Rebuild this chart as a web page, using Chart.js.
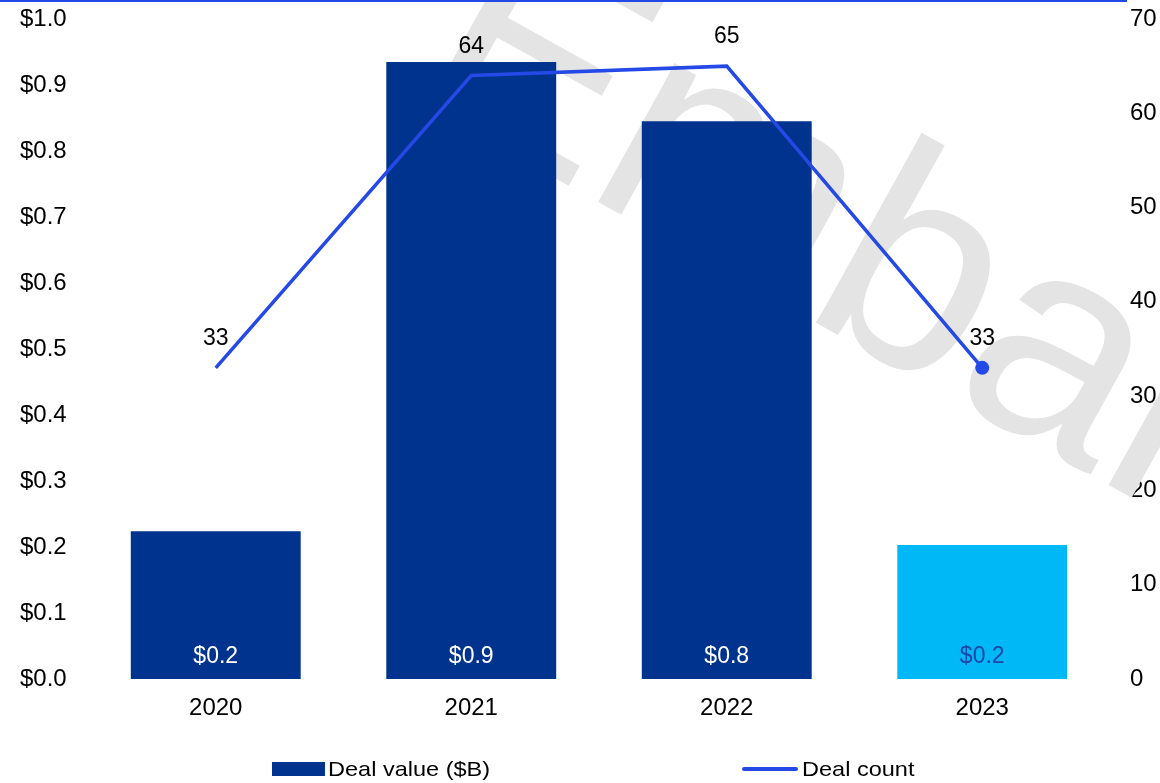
<!DOCTYPE html>
<html>
<head>
<meta charset="utf-8">
<title>Deal value and deal count</title>
<script src="https://cdn.jsdelivr.net/npm/chart.js@4/dist/chart.umd.min.js"></script>
<style>
  html, body { margin: 0; padding: 0; background: #fff; }
  #wrap { position: relative; width: 1160px; height: 783px; overflow: hidden; }
  #legend { position: absolute; left: 0; top: 0; width: 1160px; height: 783px; pointer-events: none;
    font-family: 'Liberation Sans', Arial, sans-serif; font-size: 21px; color: #000; }
  .item { position: absolute; top: 757px; height: 24px; display: flex; align-items: center; }
  .item span { display: inline-block; transform: scaleX(1.12); transform-origin: left center; white-space: nowrap; }
</style>
</head>
<body>
<div id="wrap">
  <canvas id="dealChart" width="1160" height="783"></canvas>
  <div id="legend"></div>
</div>
<script>
// chart values
const years = ['2020', '2021', '2022', '2023']
const dealValue = [0.224, 0.935, 0.845, 0.203] // $B
const dealCount = [33, 64, 65, 33]
const barColors = ['#00338D', '#00338D', '#00338D', '#00B8F5']
const barLabelColors = ['#ffffff', '#ffffff', '#ffffff', '#1C46A8']
const countPointRadius = [0, 0, 0, 7]

const FONT = "'Liberation Sans', Arial, sans-serif"
const LINE_BLUE = '#2449E6'

// labels drawn over bars and above line points
const labelPlugin = {
  id: 'labels',
  afterDatasetsDraw(chart) {
    const ctx = chart.ctx
    ctx.save()
    ctx.font = '23px ' + FONT
    ctx.textAlign = 'center'
    ctx.textBaseline = 'middle'
    chart.getDatasetMeta(1).data.forEach(function (bar, i) {
      ctx.fillStyle = barLabelColors[i]
      ctx.fillText('$' + dealValue[i].toFixed(1), bar.x, bar.base - 22)
    })
    ctx.fillStyle = '#000'
    chart.getDatasetMeta(0).data.forEach(function (pt, i) {
      ctx.fillText(String(dealCount[i]), pt.x, pt.y - 29)
    })
    ctx.restore()
  },
}

// faint watermark behind the marks, plus the thin rule at the top
const decorPlugin = {
  id: 'decor',
  beforeDatasetsDraw(chart) {
    const ctx = chart.ctx
    ctx.save()
    ctx.translate(405, 95)
    ctx.rotate(29 * Math.PI / 180)
    ctx.font = '300px ' + FONT
    ctx.fillStyle = '#e4e4e4'
    ctx.textBaseline = 'alphabetic'
    ctx.fillText('Embargoed', 0, 0)
    ctx.restore()
  },
  afterDraw(chart) {
    const ctx = chart.ctx
    ctx.save()
    ctx.fillStyle = LINE_BLUE
    ctx.fillRect(0, 0, 1127, 2)
    ctx.restore()
  },
}

function fixY(width) {
  return function (scale) {
    scale.width = width
    scale.paddingTop = 0
    scale.paddingBottom = 0
  }
}

const ctx = document.getElementById('dealChart').getContext('2d')
const chart = new Chart(ctx, {
  data: {
    labels: years,
    datasets: [
      {
        type: 'line',
        label: 'Deal count',
        data: dealCount,
        yAxisID: 'yCount',
        borderColor: LINE_BLUE,
        backgroundColor: LINE_BLUE,
        borderWidth: 3.5,
        tension: 0,
        pointRadius: countPointRadius,
        pointHoverRadius: countPointRadius,
        pointBorderWidth: 0,
        order: 0,
      },
      {
        type: 'bar',
        label: 'Deal value ($B)',
        data: dealValue,
        yAxisID: 'yValue',
        backgroundColor: barColors,
        categoryPercentage: 1,
        barPercentage: 0.665,
        order: 1,
      },
    ],
  },
  options: {
    responsive: false,
    devicePixelRatio: 1,
    animation: false,
    layout: { padding: { left: 20, right: 0, top: 19, bottom: 0 } },
    plugins: {
      legend: { display: false },
      tooltip: { enabled: false },
    },
    scales: {
      x: {
        grid: { display: false, drawTicks: false },
        border: { display: false },
        ticks: { color: '#000', font: { family: FONT, size: 24 }, padding: 15 },
        afterFit(scale) { scale.height = 104 },
      },
      yValue: {
        position: 'left',
        min: 0,
        max: 1,
        grid: { display: false, drawTicks: false },
        border: { display: false },
        ticks: {
          stepSize: 0.1,
          crossAlign: 'far',
          color: '#000',
          font: { family: FONT, size: 24 },
          callback: function (v) { return '$' + Number(v).toFixed(1) },
        },
        afterFit: fixY(68),
      },
      yCount: {
        position: 'right',
        min: 0,
        max: 70,
        grid: { display: false, drawTicks: false },
        border: { display: false },
        ticks: {
          stepSize: 10,
          padding: 20,
          color: '#000',
          font: { family: FONT, size: 24 },
        },
        afterFit: fixY(50),
      },
    },
  },
  plugins: [decorPlugin, labelPlugin],
})

// legend built from the datasets
const legend = document.getElementById('legend')
const legendPos = { 'Deal value ($B)': 272, 'Deal count': 742 }
chart.data.datasets.slice().reverse().forEach(function (ds) {
  const item = document.createElement('div')
  item.className = 'item'
  item.style.left = legendPos[ds.label] + 'px'
  const mark = document.createElement('div')
  if (ds.type === 'bar') {
    mark.style.cssText = 'width:53px;height:14px;margin-right:3px;background:' + barColors[0]
  } else {
    mark.style.cssText = 'width:56px;height:3.5px;margin-right:4px;border-radius:2px;background:' + ds.borderColor
  }
  const txt = document.createElement('span')
  txt.textContent = ds.label
  item.appendChild(mark)
  item.appendChild(txt)
  legend.appendChild(item)
})
</script>
</body>
</html>
